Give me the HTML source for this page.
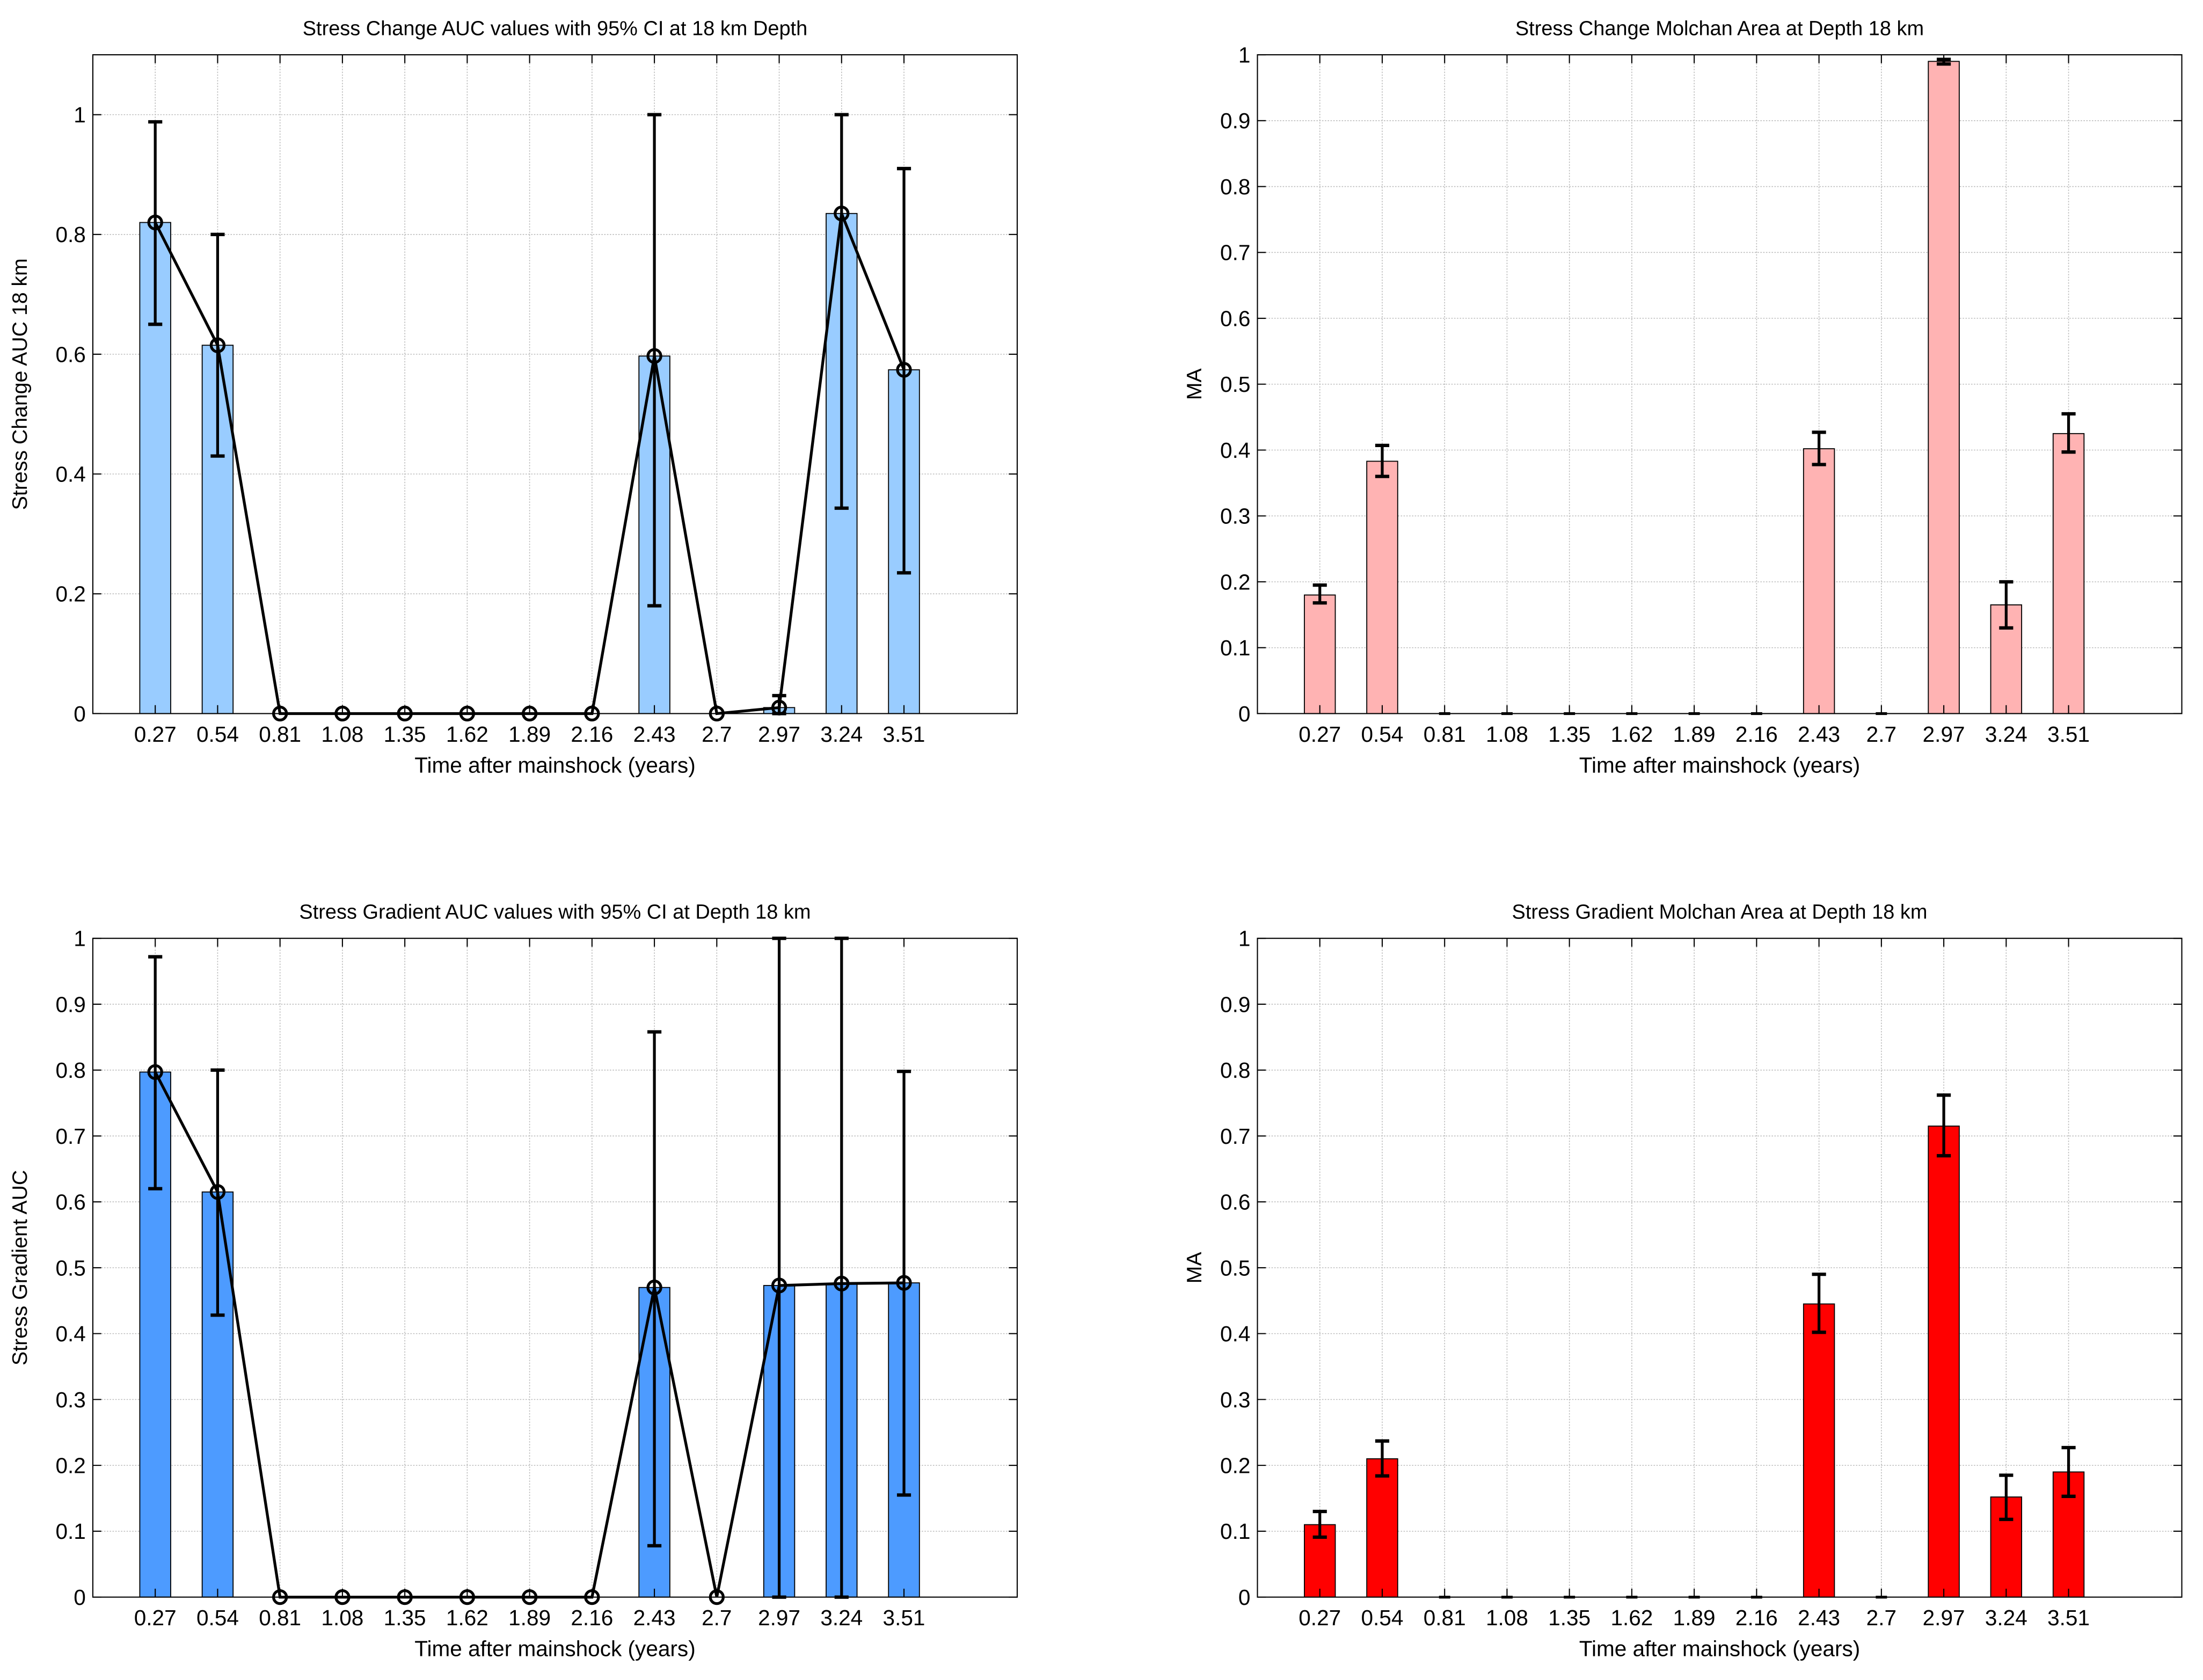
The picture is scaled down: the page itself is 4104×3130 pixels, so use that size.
<!DOCTYPE html>
<html><head><meta charset="utf-8"><style>
html,body{margin:0;padding:0;background:#fff;}
svg{display:block;}
text{font-family:"Liberation Sans",Arial,sans-serif;fill:#000;}
</style></head><body>
<svg id="s" width="4104" height="3130" viewBox="0 0 1568 1196" xmlns="http://www.w3.org/2000/svg"></svg>
<script>
var S=document.getElementById('s'),h='';
var xs=[0.27,0.54,0.81,1.08,1.35,1.62,1.89,2.16,2.43,2.7,2.97,3.24,3.51];
function plot(o){
 var L=o.x0,R=o.x0+658,T=o.y0,B=o.y0+469,ym=o.ymax;
 function X(v){return L+v/4*658;} function Y(v){return B-v/ym*469;}
 h+='<rect x="'+L+'" y="'+T+'" width="658" height="469" fill="#fff"/>';
 xs.forEach(function(v){h+='<line x1="'+X(v)+'" x2="'+X(v)+'" y1="'+T+'" y2="'+B+'" stroke="#bbb" stroke-width="0.6" stroke-dasharray="1,1"/>';});
 o.yt.forEach(function(v){h+='<line x1="'+L+'" x2="'+R+'" y1="'+Y(v)+'" y2="'+Y(v)+'" stroke="#bbb" stroke-width="0.6" stroke-dasharray="1,1"/>';});
 o.v.forEach(function(v,i){var bw=22,x=X(xs[i])-bw/2;
  if(v>0)h+='<rect x="'+x+'" y="'+Y(v)+'" width="'+bw+'" height="'+(B-Y(v))+'" fill="'+o.c+'" stroke="#000" stroke-width="0.7"/>';});
 if(o.line){var p=o.v.map(function(v,i){return X(xs[i])+','+Y(v);}).join(' ');
  h+='<polyline points="'+p+'" fill="none" stroke="#000" stroke-width="2"/>';}
 o.v.forEach(function(v,i){var e=o.e[i];var x=X(xs[i]);
  if(!e){ if(o.zdash) h+='<line x1="'+(x-4)+'" x2="'+(x+4)+'" y1="'+B+'" y2="'+B+'" stroke="#000" stroke-width="2"/>'; return;}
  h+='<line x1="'+x+'" x2="'+x+'" y1="'+Y(e[0])+'" y2="'+Y(e[1])+'" stroke="#000" stroke-width="2"/>';
  [e[0],e[1]].forEach(function(u){h+='<line x1="'+(x-5)+'" x2="'+(x+5)+'" y1="'+Y(u)+'" y2="'+Y(u)+'" stroke="#000" stroke-width="2.4"/>';});});
 if(o.line) o.v.forEach(function(v,i){h+='<circle cx="'+X(xs[i])+'" cy="'+Y(v)+'" r="4.6" fill="none" stroke="#000" stroke-width="2"/>';});
 h+='<rect x="'+L+'" y="'+T+'" width="658" height="469" fill="none" stroke="#000" stroke-width="0.8"/>';
 o.yt.forEach(function(v){var y=Y(v);h+='<line x1="'+L+'" x2="'+(L+6)+'" y1="'+y+'" y2="'+y+'" stroke="#000" stroke-width="0.8"/><line x1="'+R+'" x2="'+(R-6)+'" y1="'+y+'" y2="'+y+'" stroke="#000" stroke-width="0.8"/>';
  h+='<text x="'+(L-5)+'" y="'+(y+5.5)+'" font-size="15.5" text-anchor="end">'+v+'</text>';});
 xs.forEach(function(v){var x=X(v);h+='<line x1="'+x+'" x2="'+x+'" y1="'+B+'" y2="'+(B-6)+'" stroke="#000" stroke-width="0.8"/><line x1="'+x+'" x2="'+x+'" y1="'+T+'" y2="'+(T+6)+'" stroke="#000" stroke-width="0.8"/>';
  h+='<text x="'+x+'" y="'+(B+20)+'" font-size="15.5" text-anchor="middle">'+v+'</text>';});
 h+='<text x="'+(L+329)+'" y="'+(B+42)+'" font-size="15.5" text-anchor="middle">Time after mainshock (years)</text>';
 h+='<text x="'+(L+329)+'" y="'+(T-14)+'" font-size="14.5" text-anchor="middle">'+o.t+'</text>';
 var yx=L-o.yl, yc=(T+B)/2;
 h+='<text transform="translate('+yx+','+yc+') rotate(-90)" font-size="15" text-anchor="middle">'+o.ylab+'</text>';
}
var z=null;
plot({x0:66,y0:39,ymax:1.1,yt:[0,0.2,0.4,0.6,0.8,1],c:'#99ccff',line:1,
 v:[0.82,0.615,0,0,0,0,0,0,0.597,0,0.01,0.835,0.574],
 e:[[0.65,0.988],[0.43,0.80],z,z,z,z,z,z,[0.18,1.0],z,[0,0.03],[0.343,1.0],[0.235,0.91]],
 t:'Stress Change AUC values with 95% CI at 18 km Depth',ylab:'Stress Change AUC 18 km',yl:47});
plot({x0:895,y0:39,ymax:1,yt:[0,0.1,0.2,0.3,0.4,0.5,0.6,0.7,0.8,0.9,1],c:'#ffb3b3',zdash:1,
 v:[0.18,0.383,0,0,0,0,0,0,0.402,0,0.99,0.165,0.425],
 e:[[0.168,0.195],[0.36,0.407],z,z,z,z,z,z,[0.378,0.427],z,[0.986,0.993],[0.13,0.20],[0.397,0.455]],
 t:'Stress Change Molchan Area at Depth 18 km',ylab:'MA',yl:40});
plot({x0:66,y0:668,ymax:1,yt:[0,0.1,0.2,0.3,0.4,0.5,0.6,0.7,0.8,0.9,1],c:'#4d9bff',line:1,
 v:[0.797,0.615,0,0,0,0,0,0,0.47,0,0.473,0.476,0.477],
 e:[[0.62,0.972],[0.428,0.80],z,z,z,z,z,z,[0.078,0.858],z,[0,1.0],[0,1.0],[0.155,0.798]],
 t:'Stress Gradient AUC  values with 95% CI at Depth 18 km',ylab:'Stress Gradient AUC',yl:47});
plot({x0:895,y0:668,ymax:1,yt:[0,0.1,0.2,0.3,0.4,0.5,0.6,0.7,0.8,0.9,1],c:'#ff0000',zdash:1,
 v:[0.11,0.21,0,0,0,0,0,0,0.445,0,0.715,0.152,0.19],
 e:[[0.091,0.13],[0.184,0.237],z,z,z,z,z,z,[0.402,0.49],z,[0.67,0.762],[0.118,0.185],[0.153,0.227]],
 t:'Stress Gradient Molchan Area at Depth 18 km',ylab:'MA',yl:40});
S.innerHTML=h;
</script>
</body></html>
